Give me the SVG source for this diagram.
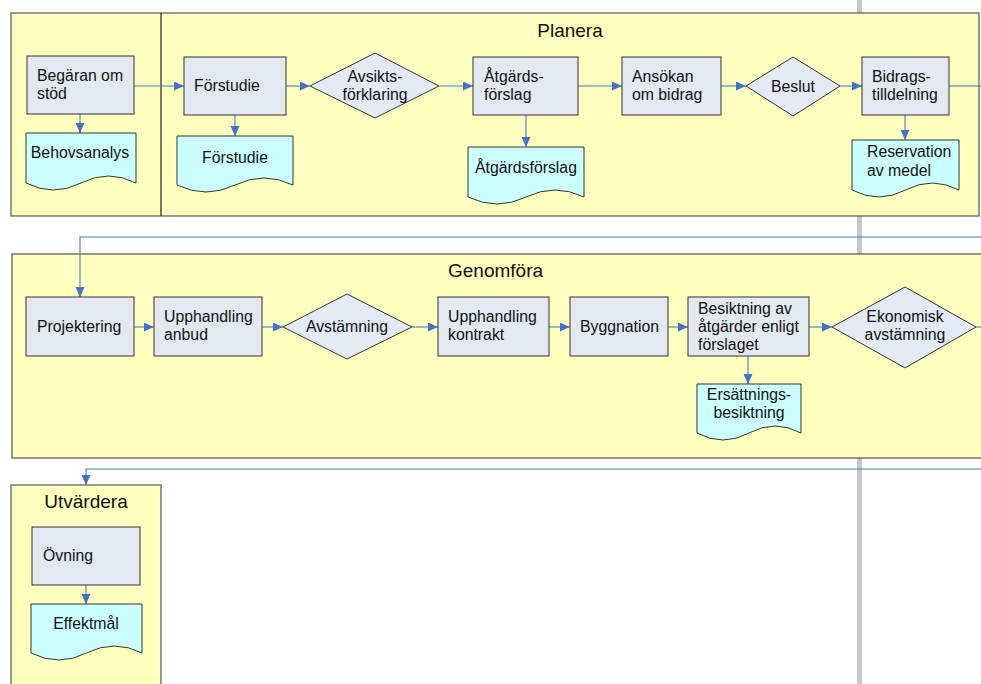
<svg xmlns="http://www.w3.org/2000/svg" width="981" height="684" viewBox="0 0 981 684">
<style>
.lane{fill:#ffffbf;stroke:#555;stroke-width:1.2}
.proc{fill:#e3e9f0;stroke:#333;stroke-width:1}
.dec{fill:#e4e9f6;stroke:#333;stroke-width:1}
.doc{fill:#ccffff;stroke:#333;stroke-width:1}
.t{font-family:"Liberation Sans",Arial,sans-serif;font-size:15.8px;fill:#111}
.c{text-anchor:middle}
.title{font-family:"Liberation Sans",Arial,sans-serif;font-size:19px;fill:#111}
.conn{fill:none;stroke:#4a7ebb;stroke-width:1.1}
</style>
<defs>
<marker id="arr" markerUnits="userSpaceOnUse" markerWidth="10" markerHeight="10" refX="10" refY="4.5" orient="auto">
<path d="M0,0 L10,4.5 L0,9 Z" fill="#4472c4"/>
</marker>
</defs>
<rect width="981" height="684" fill="#fff"/>
<rect x="857" y="0" width="5" height="684" fill="#c8c8c8"/>

<g id="lane-planera">
<rect class="lane" x="11" y="13" width="968" height="203"/>
<line x1="161" y1="13" x2="161" y2="216" stroke="#222" stroke-width="1.2"/>
<text class="title c" x="570" y="37">Planera</text>
</g>
<g id="lane-genomfora">
<rect class="lane" x="12" y="254" width="980" height="204"/>
<text class="title" x="448" y="277">Genomföra</text>
</g>
<g id="lane-utvardera">
<rect class="lane" x="11" y="485" width="150" height="210"/>
<text class="title c" x="86" y="508">Utvärdera</text>
</g>

<g id="connectors">
<line class="conn" x1="134" y1="86" x2="184" y2="86" marker-end="url(#arr)"/>
<line class="conn" x1="80" y1="114" x2="80" y2="133" marker-end="url(#arr)"/>
<line class="conn" x1="286" y1="86" x2="310" y2="86" marker-end="url(#arr)"/>
<line class="conn" x1="235" y1="115" x2="235" y2="136" marker-end="url(#arr)"/>
<line class="conn" x1="439" y1="86" x2="473" y2="86" marker-end="url(#arr)"/>
<line class="conn" x1="526" y1="115" x2="526" y2="147" marker-end="url(#arr)"/>
<line class="conn" x1="578" y1="86" x2="622" y2="86" marker-end="url(#arr)"/>
<line class="conn" x1="721" y1="86" x2="746" y2="86" marker-end="url(#arr)"/>
<line class="conn" x1="840" y1="86" x2="862" y2="86" marker-end="url(#arr)"/>
<line class="conn" x1="905" y1="115" x2="905" y2="140" marker-end="url(#arr)"/>
<line class="conn" x1="949" y1="86" x2="981" y2="86"/>
<path class="conn" d="M981,237 H80 V297" marker-end="url(#arr)"/>
<line class="conn" x1="134" y1="327" x2="154" y2="327" marker-end="url(#arr)"/>
<line class="conn" x1="262" y1="327" x2="283" y2="327" marker-end="url(#arr)"/>
<line class="conn" x1="412" y1="327" x2="438" y2="327" marker-end="url(#arr)"/>
<line class="conn" x1="549" y1="327" x2="570" y2="327" marker-end="url(#arr)"/>
<line class="conn" x1="668" y1="327" x2="688" y2="327" marker-end="url(#arr)"/>
<line class="conn" x1="809" y1="327" x2="832" y2="327" marker-end="url(#arr)"/>
<line class="conn" x1="748" y1="356" x2="748" y2="384" marker-end="url(#arr)"/>
<line class="conn" x1="976" y1="327" x2="981" y2="327"/>
<path class="conn" d="M981,469 H86 V485" marker-end="url(#arr)"/>
<line class="conn" x1="86" y1="585" x2="86" y2="604" marker-end="url(#arr)"/>
</g>

<g id="n-begaran"><rect class="proc" x="27" y="56" width="107" height="58"/><text class="t" x="37" y="81">Begäran om</text><text class="t" x="37" y="99">stöd</text></g>
<g id="n-behovsanalys"><path class="doc" d="M26,133 H136 V183 Q108.5,169 81,183 Q53.5,197 26,183 Z"/><text class="t c" x="80" y="158">Behovsanalys</text></g>
<g id="n-forstudie"><rect class="proc" x="184" y="57" width="102" height="58"/><text class="t" x="194" y="91">Förstudie</text></g>
<g id="n-forstudie-doc"><path class="doc" d="M177,136 H293 V185 Q264,171 235,185 Q206,199 177,185 Z"/><text class="t c" x="235" y="163">Förstudie</text></g>
<g id="n-avsikt"><polygon class="dec" points="310,86 375,53 439,86 375,118"/><text class="t c" x="375" y="82">Avsikts-</text><text class="t c" x="375" y="100">förklaring</text></g>
<g id="n-atgard"><rect class="proc" x="473" y="57" width="105" height="58"/><text class="t" x="484" y="82">Åtgärds-</text><text class="t" x="484" y="100">förslag</text></g>
<g id="n-atgard-doc"><path class="doc" d="M468,147 H584 V197 Q555,183 526,197 Q497,211 468,197 Z"/><text class="t c" x="526" y="173">Åtgärdsförslag</text></g>
<g id="n-ansokan"><rect class="proc" x="622" y="57" width="99" height="58"/><text class="t" x="632" y="82">Ansökan</text><text class="t" x="632" y="100">om bidrag</text></g>
<g id="n-beslut"><polygon class="dec" points="746,86 793,57 840,86 793,116"/><text class="t c" x="793" y="92">Beslut</text></g>
<g id="n-bidrag"><rect class="proc" x="862" y="57" width="87" height="58"/><text class="t" x="872" y="82">Bidrags-</text><text class="t" x="872" y="100">tilldelning</text></g>
<g id="n-reservation"><path class="doc" d="M852,140 H959 V190 Q932.25,176 905.5,190 Q878.75,204 852,190 Z"/><text class="t" x="867" y="157">Reservation</text><text class="t" x="867" y="176">av medel</text></g>

<g id="n-projektering"><rect class="proc" x="26" y="297" width="108" height="59"/><text class="t" x="37" y="332">Projektering</text></g>
<g id="n-upph-anbud"><rect class="proc" x="154" y="297" width="108" height="59"/><text class="t" x="164" y="322">Upphandling</text><text class="t" x="164" y="340">anbud</text></g>
<g id="n-avstamning"><polygon class="dec" points="283,327 347,294 412,327 347,359"/><text class="t c" x="347" y="332">Avstämning</text></g>
<g id="n-upph-kontrakt"><rect class="proc" x="438" y="297" width="111" height="59"/><text class="t" x="448" y="322">Upphandling</text><text class="t" x="448" y="340">kontrakt</text></g>
<g id="n-byggnation"><rect class="proc" x="570" y="297" width="98" height="59"/><text class="t" x="580" y="332">Byggnation</text></g>
<g id="n-besiktning"><rect class="proc" x="688" y="297" width="121" height="59"/><text class="t" x="698" y="314">Besiktning av</text><text class="t" x="698" y="332">åtgärder enligt</text><text class="t" x="698" y="350">förslaget</text></g>
<g id="n-ekonomisk"><polygon class="dec" points="832,327 905,287 976,327 905,368"/><text class="t c" x="905" y="322">Ekonomisk</text><text class="t c" x="905" y="340">avstämning</text></g>
<g id="n-ersattning"><path class="doc" d="M697,384 H801 V433 Q775,419 749,433 Q723,447 697,433 Z"/><text class="t c" x="749" y="400">Ersättnings-</text><text class="t c" x="749" y="418">besiktning</text></g>

<g id="n-ovning"><rect class="proc" x="32" y="527" width="108" height="58"/><text class="t" x="43" y="561">Övning</text></g>
<g id="n-effektmal"><path class="doc" d="M31,604 H142 V653 Q114.25,639 86.5,653 Q58.75,667 31,653 Z"/><text class="t c" x="86" y="629">Effektmål</text></g>
</svg>
